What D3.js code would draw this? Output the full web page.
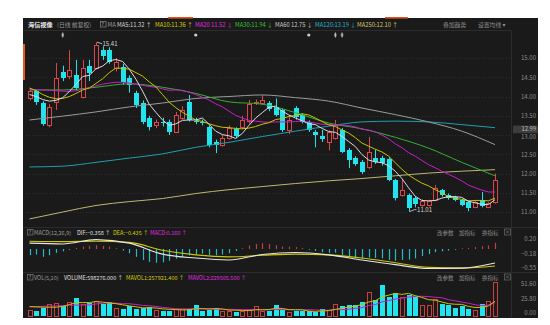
<!DOCTYPE html>
<html>
<head>
<meta charset="utf-8">
<title>海信视像 日线</title>
<script src="https://cdn.jsdelivr.net/npm/d3@7/dist/d3.min.js"></script>
<style>
  html, body { margin: 0; padding: 0; background: #ffffff; }
  svg { display: block; }
  text { font-family: "Noto Sans CJK SC", "Noto Sans", "DejaVu Sans", sans-serif; }
</style>
</head>
<body>
<svg id="chart" width="550" height="325"></svg>
<script>
// ---------- daily bars (CNY) ----------
const opens  = [13.96,14.14,13.83,13.26,13.86,14.64,14.53,14.56,13.99,14.80,
                14.74,15.20,15.20,14.74,14.77,14.48,14.10,13.83,13.44,13.25,
                13.35,13.34,13.08,13.44,13.86,13.36,13.34,13.20,12.82,12.74,
                12.92,13.15,13.20,13.36,13.84,13.83,13.83,13.73,13.65,13.13,
                13.70,13.52,13.34,13.08,12.97,12.81,12.92,13.13,12.61,12.40,
                12.30,12.17,12.40,12.40,12.38,11.83,11.44,11.44,11.36,11.18,
                11.18,11.31,11.57,11.45,11.40,11.31,11.26,11.13,11.31,11.13,11.26];
const closes = [14.14,13.86,13.29,13.73,14.48,14.48,14.69,14.22,14.74,14.60,
                15.34,15.05,14.90,14.90,14.38,14.30,13.78,13.34,13.20,13.34,
                13.30,13.08,13.52,13.65,13.39,13.33,13.30,12.74,12.74,12.92,
                13.18,12.97,13.39,13.80,13.86,13.90,13.67,13.52,13.13,13.39,
                13.47,13.34,13.13,13.00,12.90,13.08,13.26,12.56,12.35,12.25,
                12.04,12.56,12.30,12.27,11.83,11.36,11.57,11.10,11.20,11.28,
                11.28,11.62,11.44,11.36,11.31,11.18,11.10,11.26,11.16,11.23,11.83];
const highs  = [14.22,14.18,13.88,13.80,14.87,14.80,15.20,14.95,14.95,14.95,
                15.41,15.30,15.28,15.00,14.85,14.55,14.15,13.90,13.50,13.40,
                13.45,13.40,13.60,13.75,14.04,13.45,13.40,13.25,12.88,13.00,
                13.25,13.20,13.50,13.91,13.92,14.04,13.88,13.95,13.70,13.52,
                13.75,13.56,13.38,13.13,13.13,13.12,13.39,13.18,12.66,12.45,
                12.35,12.95,12.62,12.46,12.42,11.86,11.83,11.48,11.40,11.33,
                11.32,11.70,11.60,11.48,11.42,11.34,11.30,11.30,11.52,11.26,12.00];
const lows   = [13.90,13.78,13.24,13.20,13.65,14.40,14.45,14.15,13.95,14.40,
                14.70,14.95,14.85,14.65,14.30,14.10,13.70,13.28,13.12,13.18,
                13.22,13.00,13.05,13.40,13.35,13.28,13.25,12.68,12.53,12.70,
                12.88,12.92,13.15,13.30,13.78,13.78,13.62,13.48,13.08,13.02,
                13.40,13.30,13.08,12.68,12.82,12.60,12.88,12.53,12.14,12.20,
                11.99,12.12,12.25,12.20,11.80,11.30,11.40,11.01,11.12,11.14,
                11.14,11.28,11.40,11.32,11.28,11.15,11.02,11.10,11.12,11.10,11.22];

// ---------- moving averages of close ----------
const ma5  = [14.05,14.00,13.92,13.88,13.90,13.97,14.13,14.32,14.52,14.55,
              14.72,14.79,14.93,14.96,14.91,14.71,14.45,14.14,13.80,13.59,
              13.39,13.25,13.29,13.38,13.39,13.39,13.44,13.28,13.10,13.01,
              12.98,12.91,13.04,13.25,13.44,13.58,13.72,13.75,13.62,13.52,
              13.44,13.37,13.29,13.27,13.17,13.09,13.07,12.96,12.83,12.70,
              12.49,12.35,12.30,12.28,12.20,12.06,11.87,11.63,11.41,11.30,
              11.29,11.30,11.36,11.40,11.40,11.38,11.28,11.24,11.20,11.19,11.32];
const ma10 = [14.22,14.15,14.05,13.98,13.94,13.95,14.00,14.08,14.17,14.22,
              14.34,14.46,14.62,14.74,14.73,14.71,14.62,14.53,14.38,14.25,
              14.05,13.85,13.71,13.59,13.49,13.39,13.35,13.29,13.24,13.20,
              13.19,13.17,13.16,13.18,13.22,13.28,13.32,13.40,13.43,13.48,
              13.51,13.55,13.52,13.44,13.35,13.26,13.22,13.13,13.05,12.93,
              12.79,12.71,12.63,12.56,12.45,12.28,12.11,11.96,11.85,11.75,
              11.68,11.58,11.50,11.40,11.35,11.33,11.29,11.30,11.30,11.29,11.36];
const ma20 = [14.19,14.18,14.17,14.16,14.15,14.14,14.13,14.15,14.19,14.23,
              14.28,14.32,14.35,14.37,14.37,14.35,14.32,14.29,14.26,14.24,
              14.20,14.16,14.17,14.16,14.11,14.05,13.98,13.91,13.81,13.73,
              13.62,13.51,13.44,13.38,13.36,13.34,13.33,13.34,13.34,13.34,
              13.35,13.36,13.34,13.31,13.28,13.27,13.27,13.26,13.24,13.21,
              13.15,13.13,13.08,13.00,12.90,12.77,12.67,12.54,12.45,12.34,
              12.23,12.15,12.06,11.98,11.90,11.81,11.70,11.63,11.57,11.52,11.52];
// slower averages, sampled every fifth session
const longIdx = [0,5,10,15,20,25,30,35,40,45,50,55,60,65,70];
const ma30  = [14.17,14.17,14.24,14.33,14.24,14.08,13.86,13.80,13.58,13.31,13.16,12.94,12.66,12.29,11.94];
const ma60  = [13.39,13.49,13.60,13.73,13.83,13.95,14.00,14.04,13.97,13.88,13.70,13.53,13.34,13.10,12.75];
const ma120 = [12.17,12.19,12.29,12.40,12.51,12.68,12.81,12.96,13.10,13.23,13.34,13.36,13.34,13.27,13.19];
const ma250 = [10.82,11.00,11.17,11.27,11.35,11.48,11.58,11.66,11.74,11.81,11.87,11.94,12.01,12.06,12.10];

// ---------- MACD(12,26,9) ----------
const difVals = [0.15,0.13,0.24,0.15,-0.13,-0.23,-0.28,-0.14,-0.09,-0.15,-0.28,-0.40,-0.50,-0.49,-0.358];
const deaVals = [0.20,0.19,0.20,0.17,-0.03,-0.15,-0.20,-0.16,-0.13,-0.15,-0.23,-0.35,-0.47,-0.49,-0.435];
const macdHist = [-0.16,-0.14,-0.20,-0.16,-0.10,-0.06,-0.02,0.03,0.06,0.08,
                  0.10,0.08,0.06,0.02,-0.04,-0.11,-0.20,-0.28,-0.33,-0.35,
                  -0.34,-0.30,-0.25,-0.20,-0.16,-0.14,-0.12,-0.15,-0.16,-0.14,
                  -0.11,-0.05,0.02,0.09,0.13,0.15,0.13,0.10,0.06,0.06,
                  0.05,0.03,-0.02,-0.05,-0.08,-0.10,-0.09,-0.15,-0.20,-0.23,
                  -0.25,-0.22,-0.23,-0.24,-0.28,-0.30,-0.28,-0.27,-0.24,-0.18,
                  -0.13,-0.08,-0.06,-0.04,-0.02,0.02,0.03,0.05,0.07,0.09,0.16];
const macdTicks = [0.20, -0.18, -0.55];

// ---------- volume (10k shares) ----------
const volumes = [10,9,14,20,22,18,25,32,20,22,
                 27,20,24,14,12,17,12,14,15,10,
                 9,8,12,11,12,19,8,10,13,9,
                 9,7,8,11,17,9,9,19,10,6,
                 8,8,8,7,11,10,20,17,19,19,
                 24,43,28,55,34,40,34,37,34,19,
                 19,30,20,19,14,17.545,12.133,10,20,27,59.8276];
const mavol1 = [16.0,15.5,15.0,15.0,15.0,16.6,19.8,23.4,23.4,23.4,
                25.2,24.2,22.6,21.4,19.4,17.4,15.8,13.8,14.0,13.6,
                12.0,11.2,10.8,10.0,10.4,12.4,12.4,12.0,12.4,11.8,
                9.8,9.6,9.2,8.8,10.4,10.4,10.8,13.0,12.8,10.6,
                10.4,10.2,8.0,7.4,8.4,8.8,11.2,13.0,15.4,17.0,
                19.8,24.4,26.6,33.8,36.8,40.0,38.2,40.0,35.8,32.8,
                28.6,27.8,24.4,21.4,20.4,20.12,16.54,14.54,14.74,17.34,25.79214];
const mavol2 = [16.0,16.3,16.6,17.0,17.4,17.8,18.3,18.8,19.0,19.2,
                20.9,22.0,23.0,22.4,21.4,21.3,20.0,18.2,17.7,16.5,
                14.7,13.5,12.3,12.0,12.0,12.2,11.8,11.4,11.2,11.1,
                11.1,11.0,10.6,10.6,11.1,10.1,10.2,11.1,10.8,10.5,
                10.4,10.5,10.5,10.1,9.5,9.6,10.7,10.5,11.4,12.7,
                14.3,17.8,19.8,24.6,26.9,29.9,31.3,33.3,34.8,34.8,
                34.3,33.0,32.2,28.6,26.6,24.36,22.17,19.47,18.07,18.87,22.95055];
const volTicks = [51.6, 25.8, 0];

// ---------- axis ticks & markers ----------
const priceTicks = [15, 14.5, 14, 13.5, 13, 12.5, 12, 11.5, 11];
const cursorPrice = 12.99;
const eventIdx  = [5, 25, 42, 46, 47];
const eventKind = ["bar", "dot", "dot", "bar", "bar"];

// ---------- palette ----------
const BG = "#1a1a1a", GRID = "#2e2e2e", AXIS_TXT = "#8a8a8a";
const RED = "#dc4648", CYAN = "#22e4ee";
const COL = {ma5:"#dcdcdc", ma10:"#c9c400", ma20:"#c81ec8", ma30:"#32b032",
             ma60:"#9a9a9a", ma120:"#1d9fae", ma250:"#bdb773"};

const svg = d3.select("#chart");
const n = closes.length;

// layout
const plotL = 24, plotR = 511, panelR = 538;
const mainTop = 31, mainBot = 227, macdBot = 272, volBot = 317;

const x = d3.scalePoint().domain(d3.range(n)).range([29.5, 495]);
const yP = d3.scaleLinear().domain([11, 15]).range([212, 58]);
const yM = d3.scaleLinear().domain([-0.55, 0.20]).range([270.5, 241.2]);
const yV = d3.scaleLinear().domain([0, 51.6]).range([315.5, 287]);

// background panel
svg.append("rect").attr("x", 23).attr("y", 18).attr("width", panelR - 23).attr("height", 300).attr("fill", BG);
svg.append("rect").attr("x", 168).attr("y", 17).attr("width", 25).attr("height", 1.6).attr("fill", "#e5531f");
svg.append("rect").attr("x", 385).attr("y", 17).attr("width", 23).attr("height", 1.6).attr("fill", "#e5531f");
svg.append("rect").attr("x", 23).attr("y", 44).attr("width", 2).attr("height", 36).attr("fill", "#ee5a1e");

// frame lines
const frame = svg.append("g").attr("stroke", "#2c2c2c").attr("stroke-width", 1);
frame.append("line").attr("x1", 23).attr("x2", plotR).attr("y1", 30.5).attr("y2", 30.5);
frame.append("line").attr("x1", plotR + 0.5).attr("x2", plotR + 0.5).attr("y1", 31).attr("y2", 318);
frame.append("line").attr("x1", 23).attr("x2", panelR).attr("y1", mainBot + 0.5).attr("y2", mainBot + 0.5);
frame.append("line").attr("x1", 23).attr("x2", panelR).attr("y1", macdBot + 0.5).attr("y2", macdBot + 0.5);

// dotted price grid
svg.append("g").selectAll("line").data(priceTicks).join("line")
  .attr("x1", plotL + 2).attr("x2", plotR)
  .attr("y1", d => Math.round(yP(d)) + 0.5).attr("y2", d => Math.round(yP(d)) + 0.5)
  .attr("stroke", GRID).attr("stroke-dasharray", "1,2");

// clip regions
const defs = svg.append("defs");
defs.append("clipPath").attr("id", "clipMain").append("rect")
  .attr("x", plotL).attr("y", mainTop).attr("width", plotR - plotL).attr("height", mainBot - mainTop);
defs.append("clipPath").attr("id", "clipMacd").append("rect")
  .attr("x", plotL).attr("y", 236).attr("width", plotR - plotL).attr("height", macdBot - 236);
defs.append("clipPath").attr("id", "clipVol").append("rect")
  .attr("x", plotL).attr("y", 281).attr("width", plotR - plotL).attr("height", volBot - 281);

// ---------- candles ----------
const main = svg.append("g").attr("clip-path", "url(#clipMain)");
const snap = v => Math.round(v) + 0.5;
const cg = main.append("g");
d3.range(n).forEach(i => {
  const o = opens[i], c = closes[i], up = c >= o;
  const cx = snap(x(i));
  const col = up ? RED : CYAN;
  cg.append("line").attr("x1", cx).attr("x2", cx)
    .attr("y1", yP(highs[i])).attr("y2", yP(lows[i])).attr("stroke", col).attr("stroke-width", 1);
  const top = Math.round(yP(Math.max(o, c))), bot = Math.round(yP(Math.min(o, c)));
  if (up) {
    cg.append("rect").attr("x", cx - 2).attr("y", top + 0.5).attr("width", 4).attr("height", Math.max(1, bot - top))
      .attr("fill", BG).attr("stroke", col).attr("stroke-width", 1);
  } else {
    cg.append("rect").attr("x", cx - 2.5).attr("y", top).attr("width", 5).attr("height", Math.max(1, bot - top))
      .attr("fill", col);
  }
});

// ---------- moving average lines ----------
const lineFull = arr => d3.line().x((d, i) => x(i)).y(d => yP(d))(arr);
const lineSparse = arr => d3.line().curve(d3.curveMonotoneX)
  .x((d, k) => x(longIdx[k])).y(d => yP(d))(arr);
const maLayer = main.append("g").attr("fill", "none").attr("stroke-width", 1);
maLayer.append("path").attr("d", lineSparse(ma250)).attr("stroke", COL.ma250);
maLayer.append("path").attr("d", lineSparse(ma120)).attr("stroke", COL.ma120);
maLayer.append("path").attr("d", lineSparse(ma60)).attr("stroke", COL.ma60);
maLayer.append("path").attr("d", lineSparse(ma30)).attr("stroke", COL.ma30);
maLayer.append("path").attr("d", lineFull(ma20)).attr("stroke", COL.ma20);
maLayer.append("path").attr("d", lineFull(ma10)).attr("stroke", COL.ma10);
maLayer.append("path").attr("d", lineFull(ma5)).attr("stroke", COL.ma5);

// high / low annotations
const hiI = d3.maxIndex(highs), loI = d3.minIndex(lows);
const ann = svg.append("g").attr("font-size", 6).attr("fill", "#d8d8d8");
ann.append("path").attr("fill", "none").attr("stroke", "#d8d8d8").attr("stroke-width", 0.8)
  .attr("d", `M${x(hiI) + 1},${yP(highs[hiI])}L${x(hiI) + 6},${yP(highs[hiI]) + 1.5}`);
ann.append("text").attr("x", x(hiI) + 6.5).attr("y", yP(highs[hiI]) + 3.5).text(highs[hiI].toFixed(2));
ann.append("path").attr("fill", "none").attr("stroke", "#d8d8d8").attr("stroke-width", 0.8)
  .attr("d", `M${x(loI) + 1},${yP(lows[loI])}L${x(loI) + 6},${yP(lows[loI]) - 2}L${x(loI) + 8},${yP(lows[loI]) - 2}`);
ann.append("text").attr("x", x(loI) + 8.5).attr("y", yP(lows[loI])).text(lows[loI].toFixed(2));

// event markers under the title row
const ev = svg.append("g").attr("fill", "#cfcfcf").attr("stroke", "#cfcfcf");
eventIdx.forEach((i, k) => {
  const cx = x(i), cy = 35;
  if (eventKind[k] === "dot") {
    ev.append("circle").attr("cx", cx).attr("cy", cy).attr("r", 1.6).attr("stroke", "none");
  } else {
    ev.append("line").attr("x1", cx).attr("x2", cx).attr("y1", cy - 2.5).attr("y2", cy + 2.5).attr("stroke-width", 0.9);
    ev.append("line").attr("x1", cx - 1.3).attr("x2", cx + 1.3).attr("y1", cy - 0.8).attr("y2", cy - 0.8).attr("stroke-width", 0.8);
    ev.append("line").attr("x1", cx - 1.3).attr("x2", cx + 1.3).attr("y1", cy + 0.8).attr("y2", cy + 0.8).attr("stroke-width", 0.8);
  }
});

// ---------- right axes ----------
function rightAxis(scale, ticks, fmt, shift) {
  const g = svg.append("g").attr("transform", `translate(${panelR - 1},${shift})`)
    .call(d3.axisLeft(scale).tickValues(ticks).tickFormat(fmt).tickSize(0).tickPadding(1));
  g.select(".domain").remove();
  g.selectAll("text").attr("fill", AXIS_TXT).attr("font-size", 6)
    .attr("font-family", '"Noto Sans","DejaVu Sans",sans-serif');
  return g;
}
const priceAxis = rightAxis(yP, priceTicks, d3.format(".2f"), 0);
rightAxis(yM, macdTicks, d3.format(".2f"), -2.5);
rightAxis(yV, volTicks, d3.format(".2f"), -3);
// the 13.00 label sits just under the price tag, nudge it down a touch
priceAxis.selectAll(".tick").filter(d => d === 13).select("text").attr("dy", "0.62em");

// current price tag on the axis
const tagY = yP(cursorPrice) - 6;
svg.append("rect").attr("x", plotR + 2).attr("y", tagY - 3.8).attr("width", 25).attr("height", 7.6).attr("fill", "#3d3d3d");
svg.append("text").attr("x", panelR - 2).attr("y", tagY + 2.1).attr("text-anchor", "end")
  .attr("font-size", 5.8).attr("fill", "#bdbdbd").text(cursorPrice.toFixed(2));

// ---------- title row ----------
const f2 = d3.format(".2f");
const title = svg.append("g").attr("font-size", 5.8);
title.append("text").attr("x", 28).attr("y", 27).attr("fill", "#e8e8e8").attr("font-weight", "bold").attr("font-size", 6.2).text("海信视像");
title.append("text").attr("x", 57).attr("y", 27).attr("fill", "#9a9a9a").text("(日线 前复权)");
title.append("rect").attr("x", 100.5).attr("y", 21.5).attr("width", 5.5).attr("height", 5.5)
  .attr("fill", "none").attr("stroke", "#8a8a8a").attr("stroke-width", 0.7);
title.append("text").attr("x", 101.6).attr("y", 26).attr("font-size", 5).attr("fill", "#aaa").text("?");
title.append("text").attr("x", 107.5).attr("y", 27).attr("fill", "#9a9a9a").text("MA");
const maHeads = [
  {x: 117, t: `MA5:${f2(ma5[n - 1])} ↑`,   c: "#d6d6d6"},
  {x: 155, t: `MA10:${f2(ma10[n - 1])} ↑`, c: "#d8d000"},
  {x: 195, t: `MA20 ${f2(ma20[n - 1])} ↓`, c: "#e028e0"},
  {x: 235, t: `MA30:${f2(ma30[ma30.length - 1])} ↓`, c: "#36c436"},
  {x: 275, t: `MA60 ${f2(ma60[ma60.length - 1])} ↓`, c: "#c8c8c8"},
  {x: 315, t: `MA120:${f2(ma120[ma120.length - 1])} ↓`, c: "#22b8cc"},
  {x: 357, t: `MA250:${f2(ma250[ma250.length - 1])} ↑`, c: "#cfc86a"}
];
title.selectAll("text.ma").data(maHeads).join("text").attr("class", "ma")
  .attr("x", d => d.x).attr("y", 27).attr("fill", d => d.c).text(d => d.t);
title.append("text").attr("x", 443).attr("y", 27).attr("fill", "#8e8e8e").text("叠加趋势");
title.append("text").attr("x", 478).attr("y", 27).attr("fill", "#8e8e8e").text("设置均线 ▾");

// ---------- MACD panel ----------
const macd = svg.append("g").attr("clip-path", "url(#clipMacd)");
macd.append("g").selectAll("line").data(macdHist).join("line")
  .attr("x1", (d, i) => snap(x(i))).attr("x2", (d, i) => snap(x(i)))
  .attr("y1", yM(0)).attr("y2", d => yM(d))
  .attr("stroke", d => d >= 0 ? "#c2403f" : "#27b9c6").attr("stroke-width", 1.2);
const macdLine = d3.line().curve(d3.curveMonotoneX).x((d, k) => x(longIdx[k])).y(d => yM(d));
macd.append("path").attr("d", macdLine(deaVals)).attr("fill", "none").attr("stroke", "#cfc800").attr("stroke-width", 1.1);
macd.append("path").attr("d", macdLine(difVals)).attr("fill", "none").attr("stroke", "#e6e6e6").attr("stroke-width", 1.1);

function panelHeader(y, items) {
  const g = svg.append("g").attr("font-size", 5.5);
  g.append("rect").attr("x", 27.5).attr("y", y - 5).attr("width", 5.5).attr("height", 5.5)
    .attr("fill", "none").attr("stroke", "#7a7a7a").attr("stroke-width", 0.7);
  g.append("text").attr("x", 28.7).attr("y", y - 0.5).attr("font-size", 5).attr("fill", "#999").text("?");
  items.forEach(d => g.append("text").attr("x", d.x).attr("y", y).attr("fill", d.c).text(d.t));
  [["改参数", 437], ["加指标", 459], ["换指标", 482]].forEach(([t, xx]) =>
    g.append("text").attr("x", xx).attr("y", y).attr("fill", "#8a8a8a").text(t));
  g.append("rect").attr("x", 504.5).attr("y", y - 5.5).attr("width", 6).attr("height", 6)
    .attr("fill", "none").attr("stroke", "#6a6a6a").attr("stroke-width", 0.7);
  g.append("path").attr("d", `M506,${y - 4}L509,${y - 1}M509,${y - 4}L506,${y - 1}`)
    .attr("stroke", "#8a8a8a").attr("stroke-width", 0.6);
}
const f3 = d3.format(".3f");
panelHeader(234.5, [
  {x: 34, t: "MACD(12,26,9)", c: "#9a9a9a"},
  {x: 77, t: `DIF:${f3(difVals[difVals.length - 1])} ↑`, c: "#e0e0e0"},
  {x: 113, t: `DEA:${f3(deaVals[deaVals.length - 1])} ↑`, c: "#d8d000"},
  {x: 150, t: `MACD:${f3(macdHist[n - 1])} ↑`, c: "#e028e0"}
]);

// ---------- volume panel ----------
const vol = svg.append("g").attr("clip-path", "url(#clipVol)");
d3.range(n).forEach(i => {
  const up = closes[i] >= opens[i];
  const cx = snap(x(i));
  const top = Math.round(yV(volumes[i])), base = Math.round(yV(0));
  if (up) {
    vol.append("rect").attr("x", cx - 2).attr("y", top + 0.5).attr("width", 4).attr("height", Math.max(1, base - top))
      .attr("fill", BG).attr("stroke", "#c8403f").attr("stroke-width", 1);
  } else {
    vol.append("rect").attr("x", cx - 2.5).attr("y", top).attr("width", 5).attr("height", Math.max(1, base - top))
      .attr("fill", CYAN);
  }
});
const volLine = d3.line().x((d, i) => x(i)).y(d => yV(d));
vol.append("path").attr("d", volLine(mavol2)).attr("fill", "none").attr("stroke", "#c81ec8").attr("stroke-width", 1);
vol.append("path").attr("d", volLine(mavol1)).attr("fill", "none").attr("stroke", "#c9c400").attr("stroke-width", 1);

const fv = d3.format(".3f");
panelHeader(279.5, [
  {x: 34, t: "VOL(5,10)", c: "#9a9a9a"},
  {x: 64, t: `VOLUME:${fv(volumes[n - 1] * 1e4)} ↑`, c: "#e0e0e0"},
  {x: 126, t: `MAVOL1:${fv(mavol1[n - 1] * 1e4)} ↑`, c: "#d8d000"},
  {x: 188, t: `MAVOL2:${fv(mavol2[n - 1] * 1e4)} ↑`, c: "#e028e0"}
]);
</script>
</body>
</html>
